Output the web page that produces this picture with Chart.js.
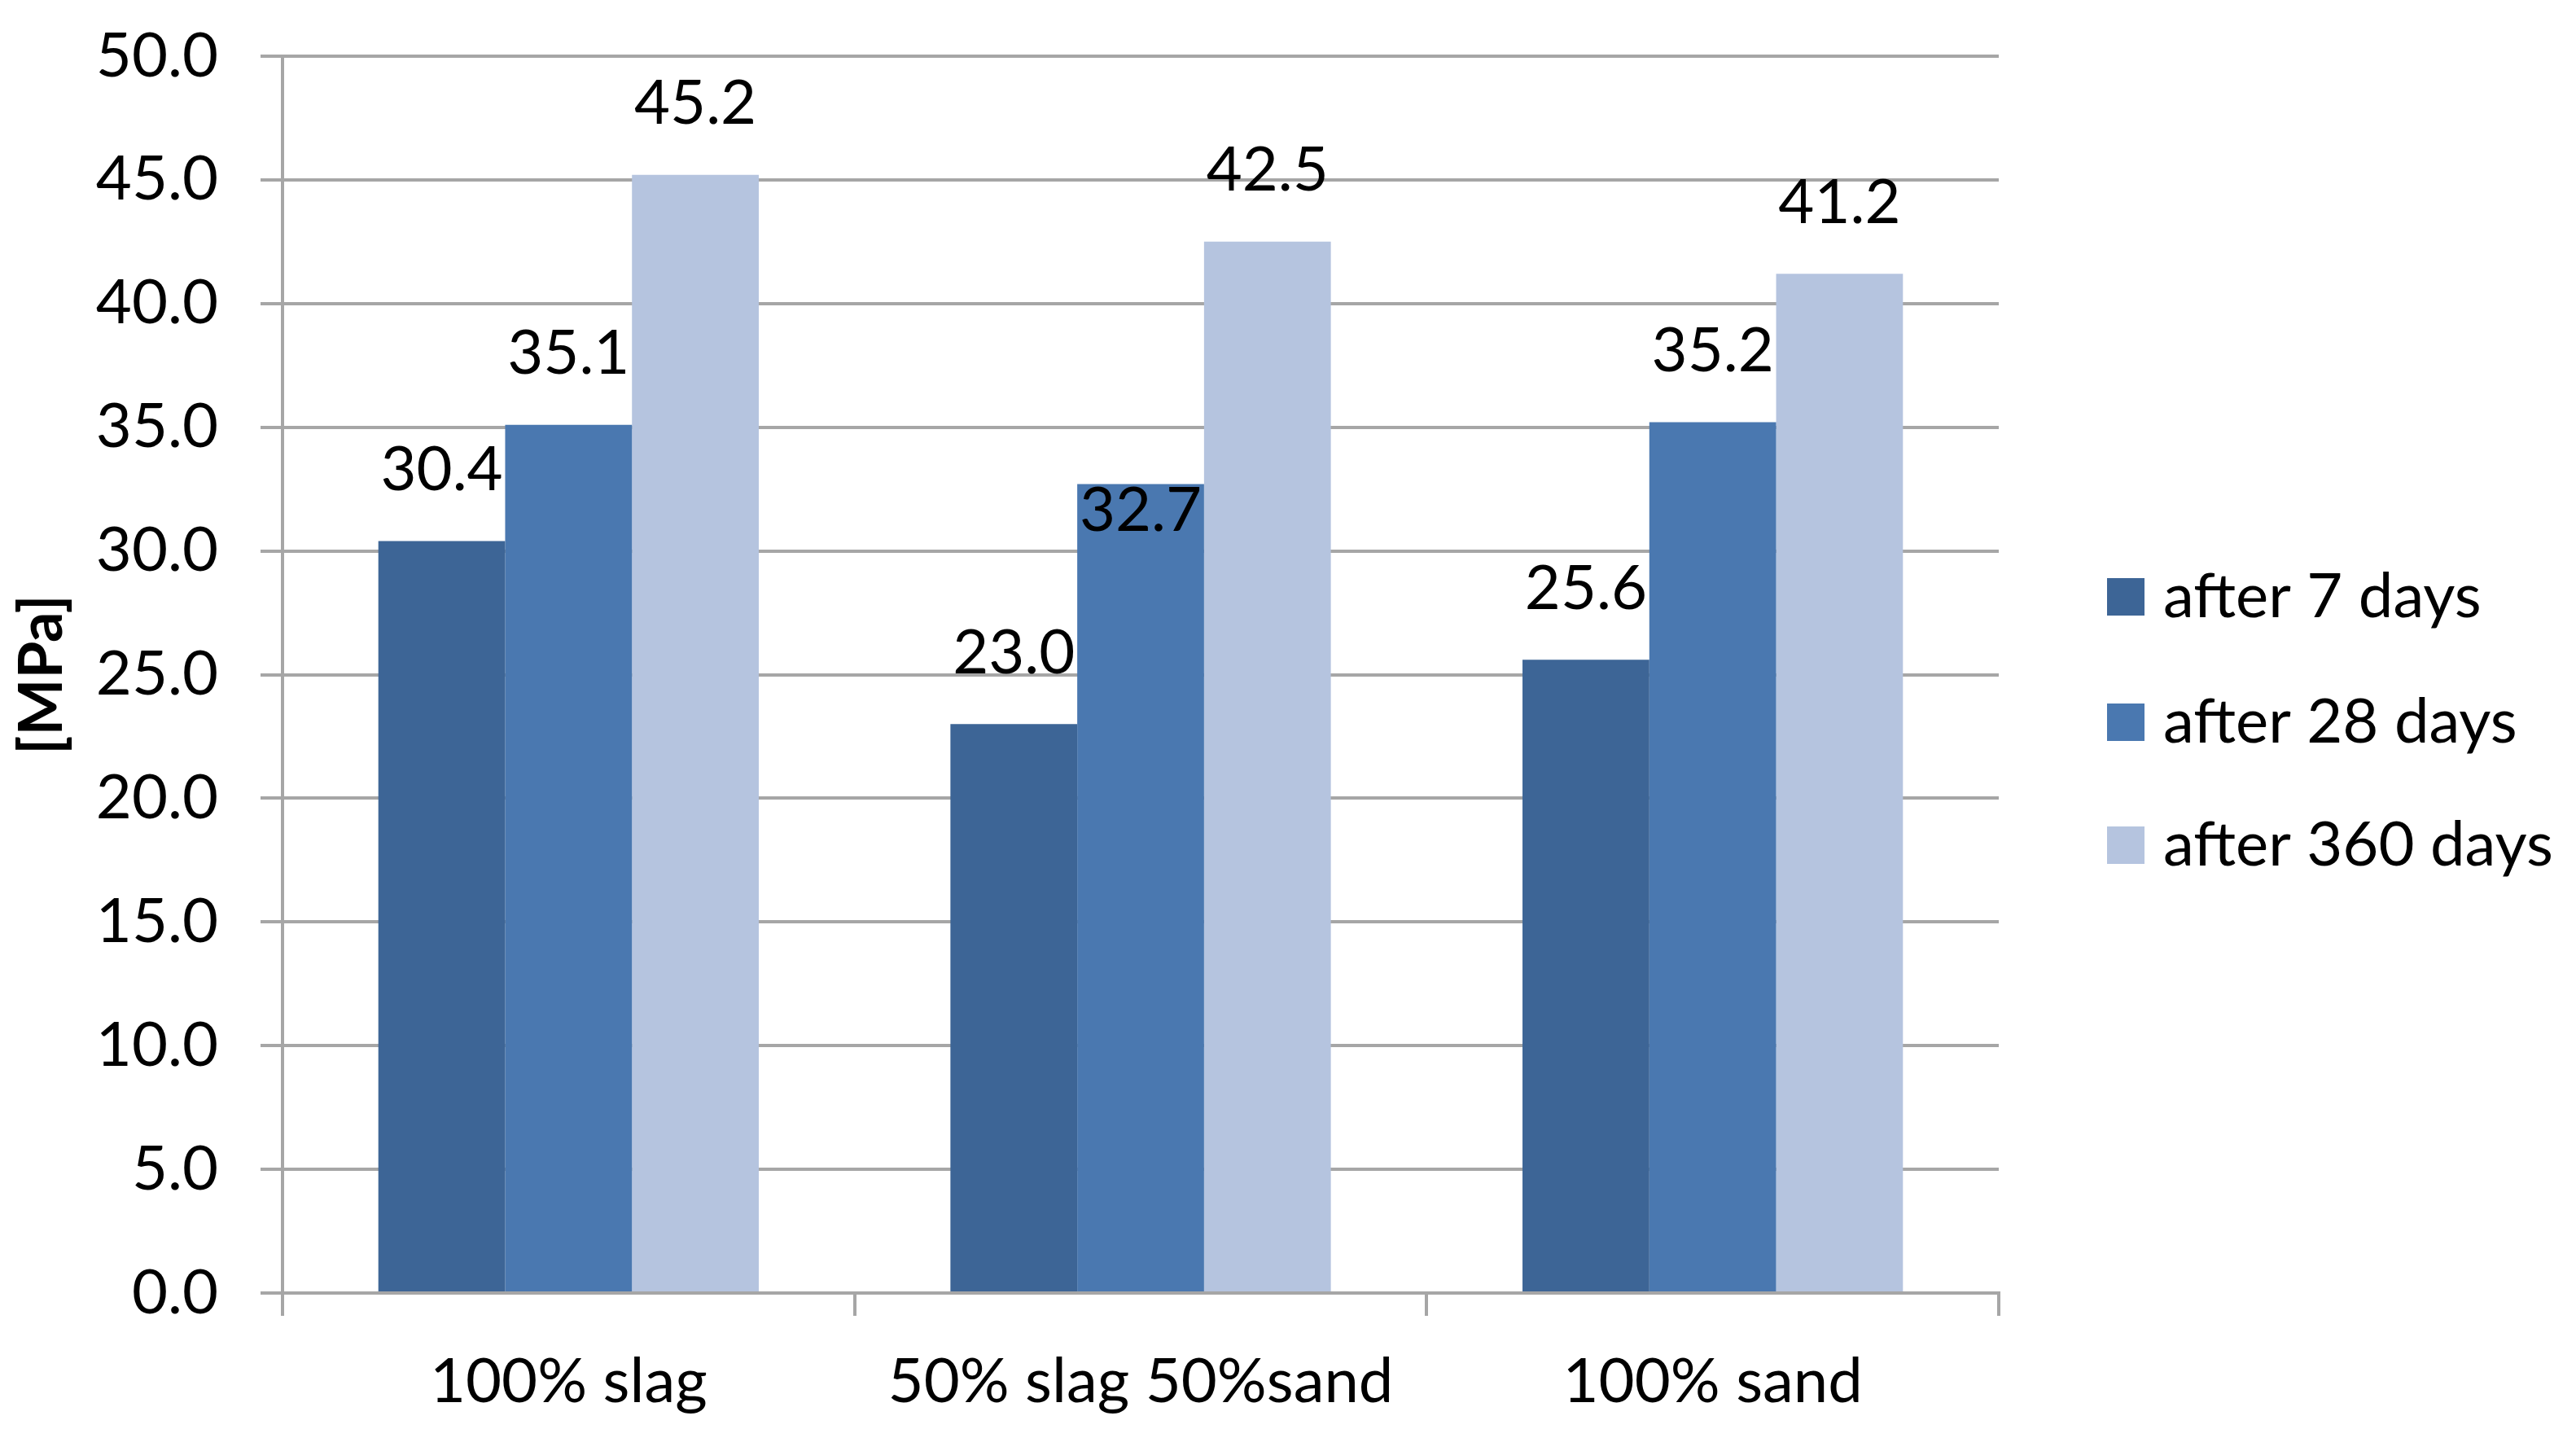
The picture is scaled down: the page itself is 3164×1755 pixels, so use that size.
<!DOCTYPE html>
<html>
<head>
<meta charset="utf-8">
<script src="https://cdn.jsdelivr.net/npm/chart.js@4.4.0/dist/chart.umd.min.js"></script>
<style>
  html, body { margin: 0; padding: 0; background: #fff; }
</style>
</head>
<body>
<canvas id="strengthChart" width="3164" height="1755"></canvas>
<script>
// compressive strength per mix, three curing ages
var categories  = ['100% slag', '50% slag 50%sand', '100% sand'];
var seriesNames = ['after 7 days', 'after 28 days', 'after 360 days'];
var after7      = [30.4, 23.0, 25.6];
var after28     = [35.1, 32.7, 35.2];
var after360    = [45.2, 42.5, 41.2];
var yTickValues = [0, 5, 10, 15, 20, 25, 30, 35, 40, 45, 50];

var DARK  = '#3d6596';
var MID   = '#4a78b0';
var LIGHT = '#b5c4df';
var GRID  = '#a6a6a6';
var FONT  = 'Lato';

// value labels over the bars (the 32.7 one sits just inside its bar in the original)
var valueLabels = {
  id: 'valueLabels',
  afterDatasetsDraw: function(chart) {
    var ctx = chart.ctx;
    ctx.save();
    ctx.font = '76px ' + FONT;
    ctx.fillStyle = '#000';
    ctx.textAlign = 'center';
    ctx.textBaseline = 'middle';
    chart.data.datasets.forEach(function(ds, i) {
      chart.getDatasetMeta(i).data.forEach(function(bar, j) {
        var inside = (i === 1 && j === 1);
        var y = inside ? bar.y + 33 : bar.y - 87;
        ctx.fillText(ds.data[j].toFixed(1), bar.x, y);
      });
    });
    ctx.restore();
  }
};

// legend to the right, one row per series
var sideLegend = {
  id: 'sideLegend',
  afterDraw: function(chart) {
    var ctx = chart.ctx;
    var rowY = [733, 887, 1038];
    ctx.save();
    ctx.font = '76px ' + FONT;
    ctx.textAlign = 'left';
    ctx.textBaseline = 'middle';
    chart.data.datasets.forEach(function(ds, i) {
      ctx.fillStyle = ds.backgroundColor;
      ctx.fillRect(2588, rowY[i] - 23, 46, 46);
      ctx.fillStyle = '#000';
      ctx.fillText(ds.label, 2657, rowY[i]);
    });
    ctx.restore();
  }
};

new Chart(document.getElementById('strengthChart').getContext('2d'), {
  type: 'bar',
  data: {
    labels: categories,
    datasets: [
      { label: seriesNames[0], data: after7,   backgroundColor: DARK  },
      { label: seriesNames[1], data: after28,  backgroundColor: MID   },
      { label: seriesNames[2], data: after360, backgroundColor: LIGHT }
    ]
  },
  options: {
    responsive: false,
    animation: false,
    layout: { padding: { top: 69, right: 709, bottom: 0, left: 0 } },
    datasets: { bar: { categoryPercentage: 0.665, barPercentage: 1.0, borderWidth: 0 } },
    plugins: {
      legend:  { display: false },
      tooltip: { enabled: false }
    },
    scales: {
      x: {
        grid:   { offset: true, drawOnChartArea: false, color: GRID, lineWidth: 4, tickLength: 28 },
        border: { color: GRID, width: 4 },
        ticks:  { color: '#000', font: { family: FONT, size: 76 }, padding: 36, maxRotation: 0 },
        afterFit: function(scale) { scale.height = 167; }
      },
      y: {
        min: 0,
        max: 50,
        afterBuildTicks: function(scale) {
          scale.ticks = yTickValues.map(function(v) { return { value: v }; });
        },
        grid:   { color: GRID, lineWidth: 4, tickLength: 27 },
        border: { color: GRID, width: 4 },
        ticks:  {
          color: '#000',
          font: { family: FONT, size: 76 },
          padding: 52,
          callback: function(v) { return Number(v).toFixed(1); }
        },
        title: {
          display: true,
          text: '[MPa]',
          color: '#000',
          font: { family: FONT, size: 74, weight: 'bold' },
          padding: { top: 8, bottom: 0 }
        },
        afterFit: function(scale) {
          scale.width = 347;
          // tick padding would otherwise push the plot top down
          scale.paddingTop = 0;
          scale.paddingBottom = 0;
        }
      }
    }
  },
  plugins: [valueLabels, sideLegend]
});
</script>
</body>
</html>
